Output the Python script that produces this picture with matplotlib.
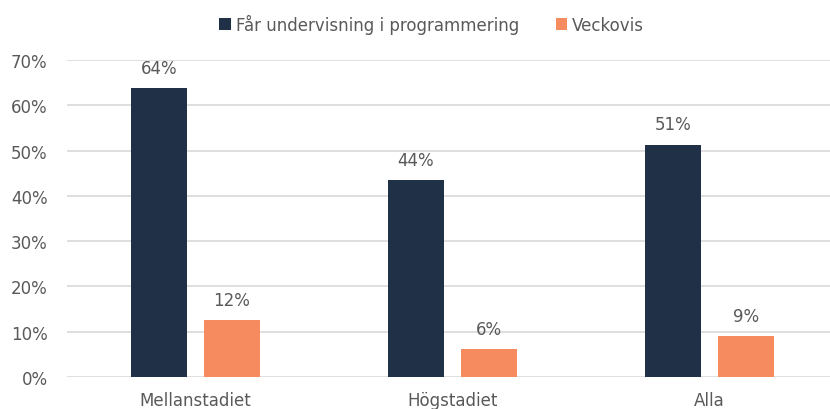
import matplotlib.pyplot as plt
import numpy as np

plt.rcParams['font.family'] = ['DejaVu Sans']

categories = ['Mellanstadiet', 'Högstadiet', 'Alla']
undervisning = [63.8, 43.4, 51.3]
veckovis = [12.6, 6.2, 9.0]
undervisning_labels = ['64%', '44%', '51%']
veckovis_labels = ['12%', '6%', '9%']

navy = '#203047'
orange = '#f58b5f'
grey = '#595959'

fig = plt.figure(figsize=(8.3, 4.1), dpi=100)
# axes runs a little past the right edge, as in the original
ax = fig.add_axes([67 / 830, 32 / 410, 771 / 830, 317 / 410])

x = np.arange(len(categories))
w = 0.218
b1 = ax.bar(x - 0.142, undervisning, w, color=navy, label='Får undervisning i programmering', zorder=3)
b2 = ax.bar(x + 0.142, veckovis, w, color=orange, label='Veckovis', zorder=3)

for bars, labels in ((b1, undervisning_labels), (b2, veckovis_labels)):
    for rect, lab in zip(bars, labels):
        ax.text(rect.get_x() + rect.get_width() / 2, rect.get_height() + 2.5, lab,
                ha='center', va='bottom', fontsize=12, color=grey)

ax.set_xlim(-0.5, 2.5)
ax.set_ylim(0, 70)
ax.set_yticks(range(0, 71, 10))
ax.set_yticklabels([f'{v}%' for v in range(0, 71, 10)])
ax.set_xticks(x)
ax.set_xticklabels(categories)
ax.tick_params(axis='both', length=0, labelsize=12, colors=grey)
ax.tick_params(axis='y', pad=14)
ax.tick_params(axis='x', pad=10)
ax.grid(axis='y', color='#d9d9d9', linewidth=1.2, zorder=0)
for s in ax.spines.values():
    s.set_visible(False)

fig.legend(loc='upper center', bbox_to_anchor=(0.52, 1.0), ncol=2, frameon=False,
           fontsize=12, labelcolor=grey, handlelength=0.7, handleheight=0.7,
           handletextpad=0.3, columnspacing=2.2)

plt.savefig('out.png', dpi=100)
